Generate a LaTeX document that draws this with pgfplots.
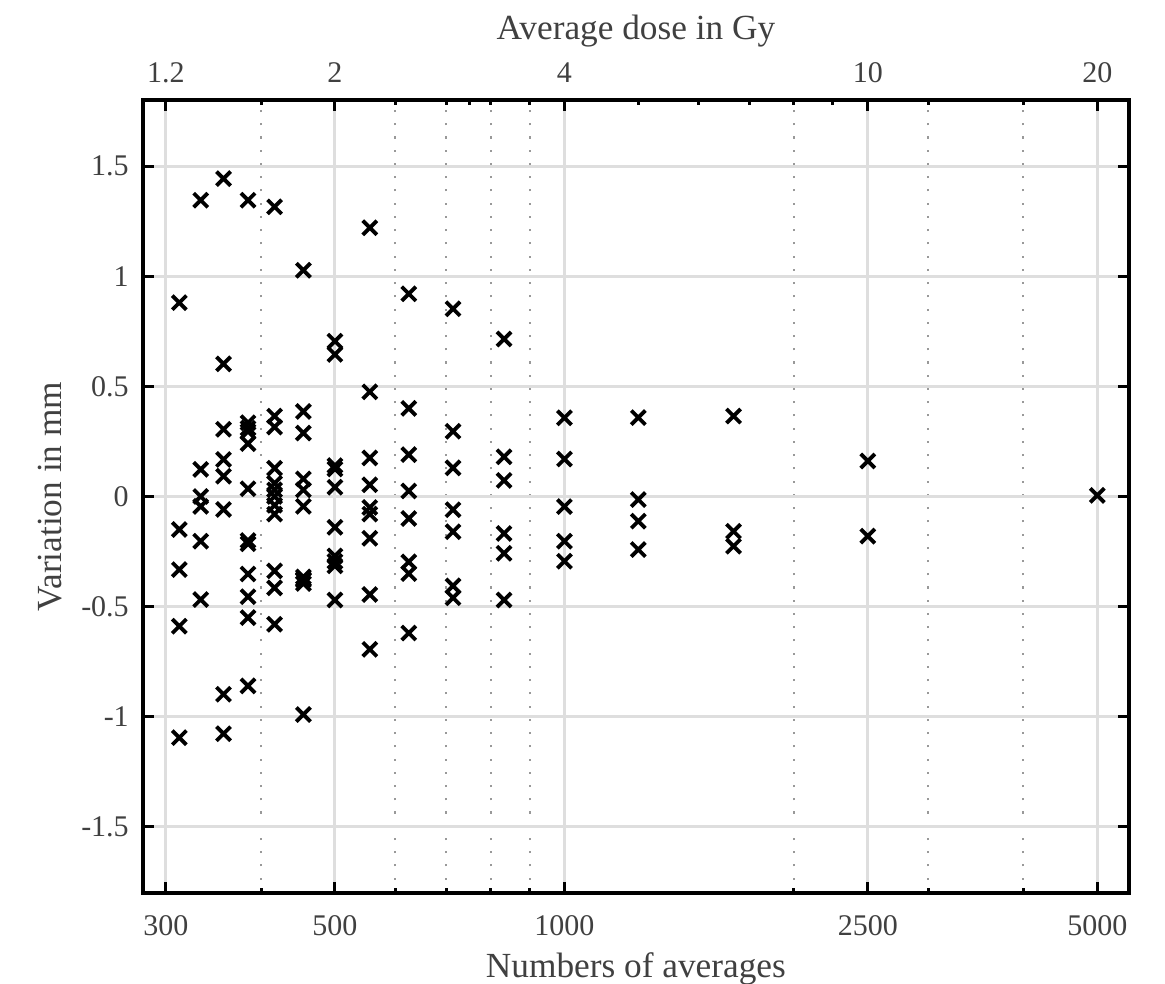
\documentclass[border=0pt]{standalone}
\usepackage{pgfplots}
\pgfplotsset{compat=1.18}
\usepackage{fontspec}
\setmainfont{Liberation Serif}
\definecolor{txt}{gray}{0.25}
\definecolor{majgrid}{gray}{0.87}
\definecolor{mingrid}{gray}{0.60}

\pgfplotstableread{
x y
312.5 0.88
312.5 -0.15
312.5 -0.332
312.5 -0.589
312.5 -1.095
333.33 1.345
333.33 0.123
333.33 0.0
333.33 -0.045
333.33 -0.203
333.33 -0.468
357.14 1.443
357.14 0.602
357.14 0.305
357.14 0.168
357.14 0.092
357.14 -0.059
357.14 -0.898
357.14 -1.077
384.62 1.345
384.62 0.335
384.62 0.31
384.62 0.295
384.62 0.24
384.62 0.035
384.62 -0.2
384.62 -0.215
384.62 -0.352
384.62 -0.455
384.62 -0.55
384.62 -0.86
416.67 1.315
416.67 0.365
416.67 0.315
416.67 0.128
416.67 0.06
416.67 0.03
416.67 0.0
416.67 -0.04
416.67 -0.08
416.67 -0.338
416.67 -0.415
416.67 -0.58
454.55 1.027
454.55 0.386
454.55 0.288
454.55 0.08
454.55 0.03
454.55 -0.045
454.55 -0.365
454.55 -0.375
454.55 -0.38
454.55 -0.395
454.55 -0.99
500 0.705
500 0.645
500 0.14
500 0.125
500 0.042
500 -0.14
500 -0.27
500 -0.295
500 -0.315
500 -0.47
555.56 1.22
555.56 0.475
555.56 0.175
555.56 0.053
555.56 -0.05
555.56 -0.08
555.56 -0.19
555.56 -0.445
555.56 -0.694
625 0.92
625 0.40
625 0.19
625 0.025
625 -0.10
625 -0.297
625 -0.35
625 -0.62
714.29 0.852
714.29 0.296
714.29 0.13
714.29 -0.06
714.29 -0.16
714.29 -0.406
714.29 -0.46
833.33 0.715
833.33 0.18
833.33 0.073
833.33 -0.168
833.33 -0.258
833.33 -0.47
1000 0.357
1000 0.17
1000 -0.046
1000 -0.203
1000 -0.294
1250 0.358
1250 -0.014
1250 -0.112
1250 -0.241
1666.67 0.365
1666.67 -0.158
1666.67 -0.226
2500 0.161
2500 -0.18
5000 0.005
}\datatable

\begin{document}
\begin{tikzpicture}
\begin{axis}[
  width=335.2pt, height=269.6pt, scale only axis,
  at={(0pt,0pt)}, anchor=south west,
  xmode=log, xmin=280, xmax=5500, ymin=-1.8, ymax=1.8,
  axis line style={line width=1.2pt, black},
  tick style={line width=1pt, black},
  major tick length=3.6pt, minor tick length=1.8pt,
  tick align=inside,
  tick label style={font=\fontsize{10.2}{12}\selectfont, text=txt},
  label style={font=\fontsize{12}{14}\selectfont, text=txt},
  /pgf/number format/assume math mode=true,
  xtick={300,500,1000,2500,5000}, xticklabels={300,500,1000,2500,5000},
  minor xtick={400,600,700,800,900,2000,3000,4000},
  xtick pos=left, xticklabel pos=left,
  ytick={-1.5,-1,-0.5,0,0.5,1,1.5}, yticklabels={-1.5,-1,-0.5,0,0.5,1,1.5},
  ytick pos=both, yticklabel pos=left,
  xticklabel style={anchor=base, yshift=-14.3pt},
  yticklabel style={xshift=-1.3pt},
  grid=both,
  major grid style={majgrid, line width=1pt},
  minor grid style={mingrid, line width=0.7pt, dash pattern=on 0.7pt off 3.8pt},
  xlabel={Numbers of averages},
  xlabel style={at={(axis description cs:0.5,-0.1061)}, anchor=base},
  ylabel={Variation in mm},
  ylabel style={at={(axis description cs:-0.083,0.5)}, anchor=base},
]
\addplot[only marks, mark=x, mark size=3.4pt, line width=1.3pt, black] table[x=x,y=y] {\datatable};
\end{axis}
\begin{axis}[
  width=335.2pt, height=269.6pt, scale only axis,
  at={(0pt,0pt)}, anchor=south west,
  xmode=log, xmin=280, xmax=5500, ymin=-1.8, ymax=1.8,
  axis line style={line width=1.2pt, black},
  tick style={line width=1pt, black},
  major tick length=3.6pt, minor tick length=1.8pt,
  tick align=inside,
  tick label style={font=\fontsize{10.2}{12}\selectfont, text=txt},
  label style={font=\fontsize{12}{14}\selectfont, text=txt},
  /pgf/number format/assume math mode=true,
  xtick={300,500,1000,2500,5000}, xticklabels={1.2,2,4,10,20},
  minor xtick={400,600,700,750,800,900,1250,1500,1750,2000,2250,3000,4000},
  xtick pos=right, xticklabel pos=right,
  ytick=\empty,
  xticklabel style={anchor=base, yshift=6.1pt},
  xlabel={Average dose in Gy},
  xlabel style={at={(axis description cs:0.5,1.0757)}, anchor=base},
]
\addplot[draw=none, forget plot] coordinates {(1000,0)};
\end{axis}
\pgfresetboundingbox
\path[use as bounding box] (-48.6pt,-30.9pt) rectangle (347.5pt,303.6pt);
\end{tikzpicture}
\end{document}
